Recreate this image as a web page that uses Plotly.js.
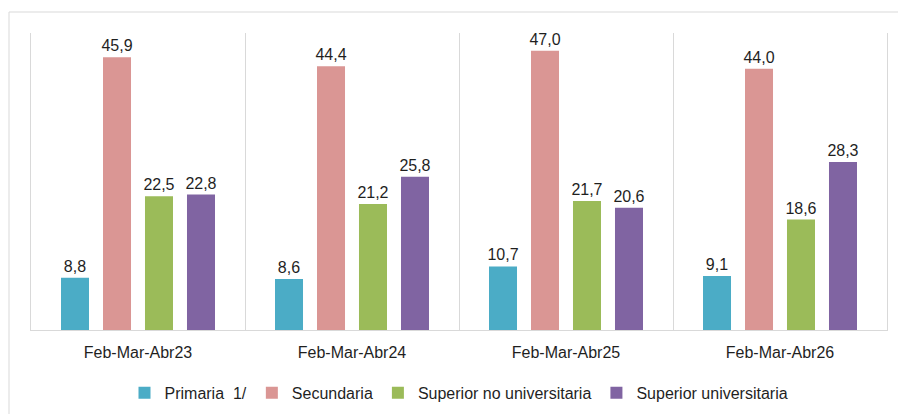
<!DOCTYPE html>
<html>
<head>
<meta charset="utf-8">
<script src="https://cdn.plot.ly/plotly-3.0.1.min.js"></script>
<style>
  html, body { margin: 0; padding: 0; background: #fff; }
  #chart { width: 898px; height: 414px; }
</style>
</head>
<body>
<div id="chart"></div>
<script>
// Periods and series values (percent)
const categories = ['Feb-Mar-Abr23', 'Feb-Mar-Abr24', 'Feb-Mar-Abr25', 'Feb-Mar-Abr26'];
const primaria = [8.8, 8.6, 10.7, 9.1];
const secundaria = [45.9, 44.4, 47.0, 44.0];
const superiorNoUniv = [22.5, 21.2, 21.7, 18.6];
const superiorUniv = [22.8, 25.8, 20.6, 28.3];

const seriesNames = ['Primaria\u00a0 1/', 'Secundaria', 'Superior no universitaria', 'Superior universitaria'];
const seriesColors = ['#4BACC6', '#DA9694', '#9BBB59', '#8064A2'];
const seriesValues = [primaria, secundaria, superiorNoUniv, superiorUniv];

const fontFamily = '"Liberation Sans", Arial, sans-serif';
const textColor = '#1f1f1f';
const gridColor = '#d9d9d9';

const traces = seriesValues.map((vals, i) => ({
    type: 'bar',
    name: seriesNames[i],
    x: categories,
    y: vals,
    marker: { color: seriesColors[i] },
    texttemplate: '%{y:.1f}',
    textposition: 'outside',
    textangle: 0,
    constraintext: 'none',
    textfont: { family: fontFamily, size: 16, color: textColor },
    cliponaxis: false,
    hoverinfo: 'skip'
}));

const layout = {
    width: 898,
    height: 414,
    margin: { l: 31, r: 11, t: 33, b: 84, autoexpand: false },
    paper_bgcolor: '#fff',
    plot_bgcolor: '#fff',
    separators: ',.',
    font: { family: fontFamily, size: 16, color: textColor },
    barmode: 'group',
    bargap: 0.215,
    bargroupgap: 0.333,
    xaxis: {
        type: 'category',
        tickson: 'boundaries',
        ticks: '',
        ticklabelstandoff: 8,
        showgrid: true,
        gridcolor: gridColor,
        showline: true,
        linecolor: gridColor,
        linewidth: 1,
        tickfont: { family: fontFamily, size: 16, color: textColor },
        fixedrange: true
    },
    yaxis: {
        range: [0, 50],
        showgrid: false,
        zeroline: false,
        showticklabels: false,
        showline: true,
        mirror: true,
        linecolor: gridColor,
        linewidth: 1,
        ticks: '',
        fixedrange: true
    },
    showlegend: true,
    legend: {
        orientation: 'h',
        x: 0.5,
        xanchor: 'center',
        y: -0.212,
        yanchor: 'middle',
        font: { family: fontFamily, size: 16, color: textColor },
        traceorder: 'normal'
    },
    shapes: [{
        // outer chart-area frame
        type: 'rect',
        xref: 'paper', yref: 'paper',
        x0: -0.0257, x1: 1.05, y0: -0.4, y1: 1.0707,
        line: { color: gridColor, width: 1 },
        layer: 'below'
    }]
};

Plotly.newPlot('chart', traces, layout, { displayModeBar: false, staticPlot: true });
</script>
</body>
</html>
